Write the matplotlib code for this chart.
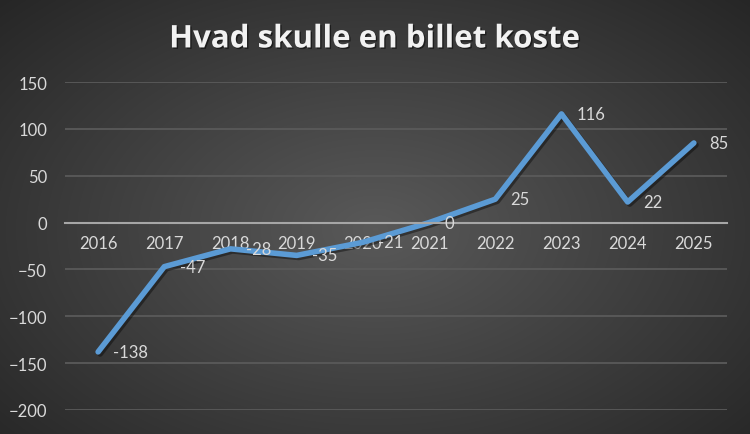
import matplotlib.pyplot as plt
import matplotlib.patheffects as pe
import numpy as np

years = ['2016', '2017', '2018', '2019', '2020', '2021', '2022', '2023', '2024', '2025']
values = [-138, -47, -28, -35, -21, 0, 25, 116, 22, 85]
yticks = [-200, -150, -100, -50, 0, 50, 100, 150]

plt.rcParams['font.family'] = ['Lato', 'DejaVu Sans']

fig = plt.figure(figsize=(7.5, 4.35), dpi=100)

# radial gradient background
bg = fig.add_axes([0, 0, 1, 1])
yy, xx = np.mgrid[0:435, 0:750]
r = np.sqrt(((xx - 375) / 520.0) ** 2 + ((yy - 230) / 330.0) ** 2)
shade = np.clip(0.35 - 0.2 * r, 0.13, 0.35)
bg.imshow(np.dstack([shade] * 3), aspect='auto', extent=[0, 1, 0, 1])
bg.axis('off')

ax = fig.add_axes([0.0867, 0.0552, 0.8826, 0.7538])
ax.patch.set_alpha(0)
x = np.arange(len(years))
ax.set_xlim(-0.5, len(years) - 0.5)
ax.set_ylim(-200, 150)
ax.set_yticks(yticks)
ax.yaxis.grid(True, color='#5a5a5a', linewidth=1.3)
ax.set_axisbelow(True)
for s in ['top', 'right', 'left']:
    ax.spines[s].set_visible(False)
ax.spines['bottom'].set_position(('data', 0))
ax.spines['bottom'].set_color('#a6a6a6')
ax.spines['bottom'].set_linewidth(1.5)
ax.set_xticks(x)
ax.set_xticklabels(years)
ax.tick_params(axis='both', length=0, colors='#d9d9d9', labelsize=12)
ax.tick_params(axis='x', pad=9)
ax.tick_params(axis='y', pad=13)

ax.plot(x, values, color='#5b9bd5', linewidth=4, solid_capstyle='round',
        solid_joinstyle='round',
        path_effects=[pe.SimpleLineShadow(offset=(1.5, -1.5), shadow_color='black', alpha=0.4),
                      pe.Normal()])

for xi, v in zip(x, values):
    ax.annotate(str(v), (xi, v), xytext=(11, 0), textcoords='offset points',
                ha='left', va='center', color='#d9d9d9', fontsize=12)

fig.text(0.5, 0.907, 'Hvad skulle en billet koste', ha='center', va='center',
         color='#f2f2f2', fontsize=22.5, fontweight='bold', family=['Open Sans', 'DejaVu Sans'],
         path_effects=[pe.withSimplePatchShadow(offset=(1, -1), shadow_rgbFace='black', alpha=0.5)])

fig.savefig('out.png', dpi=100)
